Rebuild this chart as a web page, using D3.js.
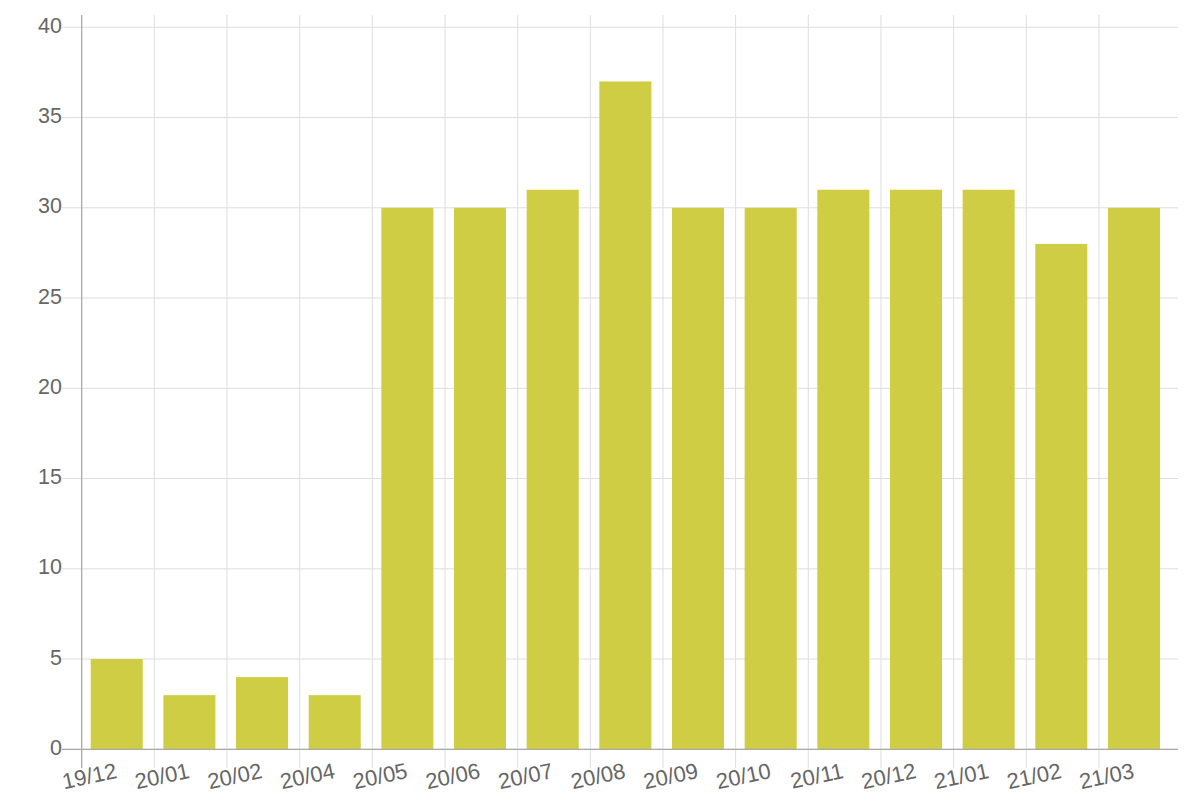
<!DOCTYPE html>
<html><head><meta charset="utf-8">
<script src="https://cdn.jsdelivr.net/npm/d3@7"></script>
<style>
html,body{margin:0;padding:0;background:#fff;}
svg{display:block;font-family:"Liberation Sans",Arial,Helvetica,sans-serif;}
</style></head>
<body>
<svg id="chart" width="1200" height="808"></svg>
<script>
const categories = ["19/12","20/01","20/02","20/04","20/05","20/06","20/07","20/08","20/09","20/10","20/11","20/12","21/01","21/02","21/03"];
const values = [5,3,4,3,30,30,31,37,30,30,31,31,31,28,30];
const yTicks = [0,5,10,15,20,25,30,35,40];

(function(){
const svg = d3.select("#chart");
const mLeft = 81.7, mRight = 1178, mTop = 15, mBottom = 749.3;
const step = 72.66;

const gx = d3.scaleBand().domain(categories).range([mLeft, mLeft + step*categories.length]).padding(0);
const x = d3.scaleBand().domain(categories).range([mLeft - 1.3, mLeft - 1.3 + step*categories.length]).paddingInner(0.284).paddingOuter(0.142);
const y = d3.scaleLinear().domain([0, 40]).range([mBottom, 27.3]);

// horizontal grid
svg.append("g").selectAll("line").data(yTicks).join("line")
  .attr("x1", 62).attr("x2", mRight)
  .attr("y1", d => y(d)).attr("y2", d => y(d))
  .attr("stroke", "#dedede").attr("stroke-width", 1);

// vertical grid
svg.append("g").selectAll("line").data(categories.slice(1)).join("line")
  .attr("x1", d => gx(d)).attr("x2", d => gx(d))
  .attr("y1", mTop).attr("y2", 768)
  .attr("stroke", "#dedede").attr("stroke-width", 1);

// bars
svg.append("g").selectAll("rect").data(values).join("rect")
  .attr("x", (d,i) => x(categories[i]))
  .attr("width", x.bandwidth())
  .attr("y", d => y(d))
  .attr("height", d => y(0) - y(d))
  .attr("fill", "#cecd43");

// axes lines
svg.append("line").attr("x1", mLeft).attr("x2", mLeft).attr("y1", mTop).attr("y2", 768)
  .attr("stroke", "#a8a8a8").attr("stroke-width", 1.3);
svg.append("line").attr("x1", 62).attr("x2", mRight).attr("y1", y(0)).attr("y2", y(0))
  .attr("stroke", "#a8a8a8").attr("stroke-width", 1.3);

// y labels
svg.append("g").selectAll("text").data(yTicks).join("text")
  .attr("x", 62).attr("y", d => y(d))
  .attr("text-anchor", "end").attr("dominant-baseline", "middle")
  .attr("font-size", 21.5).attr("fill", "#666")
  .text(d => d);

// x labels
svg.append("g").selectAll("text").data(categories).join("text")
  .attr("transform", d => `translate(${x(d) + x.bandwidth()/2},772) rotate(-12)`)
  .attr("text-anchor", "end").attr("dominant-baseline", "middle")
  .attr("font-size", 22).attr("fill", "#666")
  .text(d => d);
})();
</script>
</body></html>
